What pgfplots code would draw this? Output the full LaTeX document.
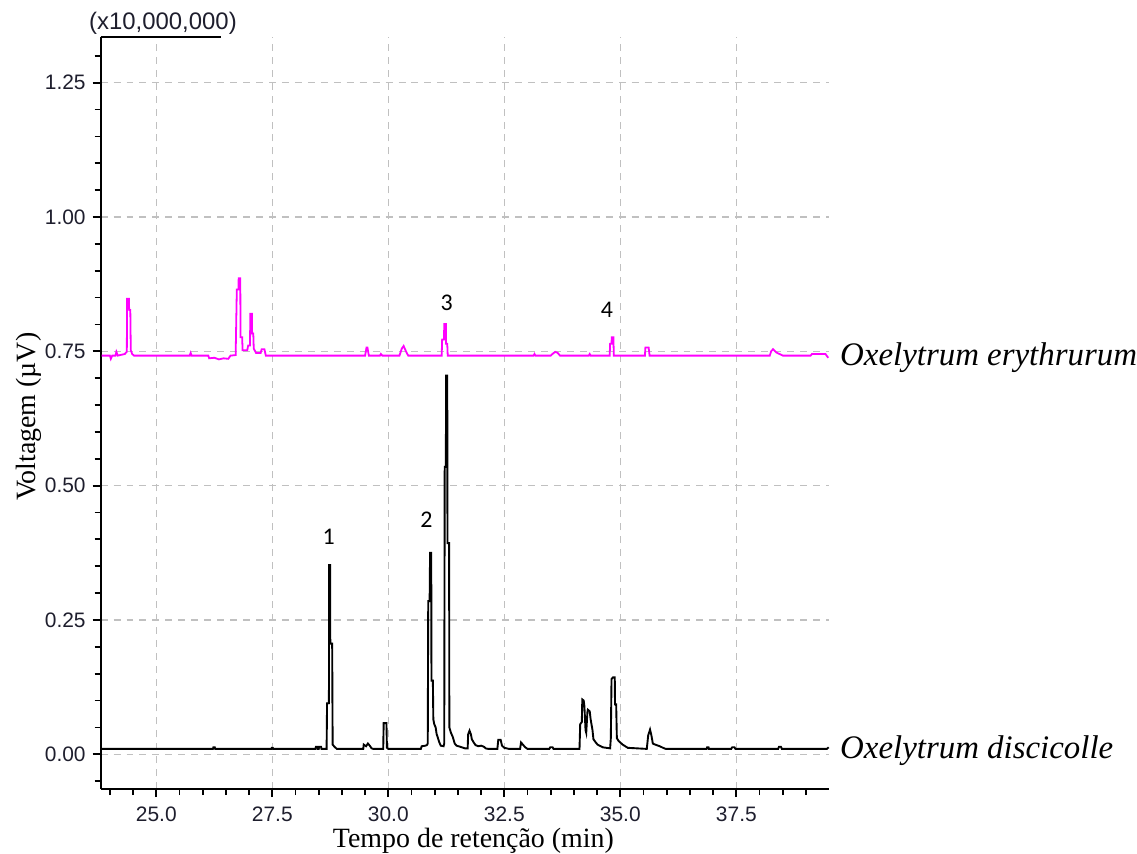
\documentclass[border=0pt]{standalone}
\usepackage{fontspec}
\setmainfont{Liberation Serif}
\setsansfont{Liberation Sans}
\newfontfamily\calibri{Carlito}
\usepackage{pgfplots}
\pgfplotsset{compat=1.18}
\definecolor{trmag}{RGB}{255,0,255}
\definecolor{gridc}{RGB}{192,192,192}
\definecolor{tickc}{RGB}{30,30,45}

\pgfplotstableread{
t v
23.80 0.010
26.22 0.010
26.23 0.013
26.26 0.013
26.27 0.010
27.48 0.010
27.49 0.012
27.51 0.012
27.52 0.010
28.43 0.010
28.44 0.014
28.47 0.014
28.48 0.010
28.50 0.010
28.51 0.014
28.55 0.014
28.56 0.010
28.67 0.010
28.68 0.095
28.72 0.095
28.725 0.352
28.745 0.352
28.75 0.206
28.79 0.206
28.80 0.018
28.84 0.014
28.89 0.010
29.46 0.010
29.47 0.018
29.52 0.015
29.56 0.020
29.60 0.016
29.64 0.011
29.68 0.010
29.89 0.010
29.90 0.058
29.96 0.058
29.97 0.012
30.00 0.010
30.70 0.010
30.72 0.015
30.80 0.016
30.83 0.017
30.85 0.020
30.86 0.285
30.89 0.285
30.90 0.375
30.925 0.375
30.93 0.137
30.96 0.137
30.97 0.065
30.99 0.056
31.02 0.050
31.04 0.038
31.07 0.030
31.10 0.022
31.13 0.016
31.19 0.015
31.205 0.020
31.215 0.535
31.24 0.535
31.245 0.705
31.27 0.705
31.275 0.393
31.31 0.393
31.315 0.050
31.35 0.040
31.39 0.032
31.43 0.020
31.47 0.016
31.55 0.014
31.65 0.011
31.71 0.011
31.72 0.037
31.75 0.044
31.78 0.037
31.80 0.028
31.84 0.022
31.88 0.017
31.94 0.015
32.00 0.016
32.06 0.014
32.10 0.011
32.15 0.010
32.35 0.010
32.37 0.027
32.42 0.027
32.45 0.016
32.50 0.012
32.60 0.010
32.84 0.010
32.86 0.022
32.90 0.018
32.95 0.013
33.00 0.010
33.47 0.010
33.49 0.013
33.54 0.013
33.56 0.010
34.12 0.010
34.135 0.056
34.17 0.060
34.18 0.102
34.21 0.100
34.225 0.090
34.25 0.045
34.265 0.040
34.29 0.078
34.30 0.083
34.34 0.080
34.36 0.065
34.40 0.045
34.42 0.028
34.47 0.022
34.51 0.018
34.62 0.013
34.78 0.011
34.795 0.030
34.81 0.140
34.84 0.143
34.88 0.143
34.885 0.093
34.91 0.093
34.925 0.030
34.96 0.025
35.05 0.018
35.16 0.012
35.57 0.010
35.60 0.035
35.64 0.046
35.67 0.035
35.70 0.020
35.75 0.018
35.85 0.015
35.92 0.012
35.98 0.010
36.86 0.010
36.87 0.013
36.90 0.013
36.91 0.010
37.39 0.010
37.41 0.013
37.46 0.013
37.48 0.010
38.40 0.010
38.42 0.014
38.46 0.014
38.48 0.010
39.45 0.010
39.49 0.013
}\discicolle

\pgfplotstableread{
t v
23.82 0.742
24.00 0.742
24.02 0.736
24.05 0.742
24.12 0.742
24.14 0.749
24.17 0.742
24.32 0.745
24.365 0.749
24.37 0.848
24.41 0.848
24.415 0.827
24.44 0.827
24.45 0.752
24.48 0.745
24.52 0.742
25.72 0.742
25.74 0.747
25.76 0.742
26.12 0.742
26.14 0.737
26.25 0.738
26.35 0.735
26.45 0.737
26.55 0.736
26.60 0.742
26.71 0.743
26.735 0.865
26.77 0.865
26.775 0.886
26.81 0.886
26.815 0.776
26.85 0.776
26.86 0.752
26.96 0.752
26.98 0.761
27.02 0.761
27.025 0.820
27.06 0.820
27.065 0.783
27.09 0.783
27.10 0.755
27.15 0.747
27.25 0.747
27.27 0.754
27.33 0.754
27.36 0.742
29.50 0.742
29.53 0.757
29.55 0.757
29.58 0.742
29.82 0.742
29.84 0.745
29.87 0.742
30.24 0.742
30.29 0.755
30.33 0.760
30.37 0.752
30.41 0.745
30.43 0.742
31.15 0.742
31.16 0.772
31.20 0.772
31.205 0.801
31.24 0.801
31.245 0.764
31.27 0.764
31.28 0.742
33.13 0.742
33.15 0.745
33.17 0.742
33.50 0.742
33.55 0.746
33.60 0.749
33.65 0.747
33.70 0.742
34.32 0.742
34.34 0.745
34.36 0.742
34.77 0.742
34.78 0.764
34.81 0.764
34.815 0.776
34.85 0.776
34.86 0.742
35.53 0.742
35.54 0.757
35.61 0.757
35.63 0.742
38.22 0.742
38.25 0.750
38.29 0.754
38.36 0.748
38.50 0.742
39.10 0.742
39.13 0.745
39.42 0.745
39.48 0.738
}\erythrurum

\begin{document}
\begin{tikzpicture}
\begin{axis}[
  scale only axis,
  width=365.35pt, height=377.5pt,
  xmin=23.8, xmax=39.49,
  ymin=-0.0649, ymax=1.3353,
  clip=false,
  axis x line*=bottom, axis y line*=left,
  axis line style={line width=1pt, black, -},
  xtick={25,27.5,30,32.5,35,37.5},
  ytick={0,0.25,0.5,0.75,1,1.25},
  minor xtick={24,24.5,25.5,26,26.5,27,28,28.5,29,29.5,30.5,31,31.5,32,33,33.5,34,34.5,35.5,36,36.5,37,38,38.5,39},
  minor ytick={-0.05,0.05,0.1,0.15,0.2,0.3,0.35,0.4,0.45,0.55,0.6,0.65,0.7,0.8,0.85,0.9,0.95,1.05,1.1,1.15,1.2,1.3},
  tick align=outside,
  major tick length=4pt, minor tick length=3pt,
  every tick/.style={line width=0.9pt, black},
  grid=major,
  major grid style={gridc, dash pattern=on 3.5pt off 3pt, line width=0.7pt},
  tick label style={font=\sffamily\fontsize{10.5}{12}\selectfont, text=tickc},
  xticklabel style={inner sep=0pt, yshift=-4.5pt, /pgf/number format/.cd, fixed, fixed zerofill, precision=1, assume math mode=true},
  yticklabel style={/pgf/number format/.cd, fixed, fixed zerofill, precision=2, assume math mode=true},
  xlabel={Tempo de retenção (min)},
  ylabel={Voltagem (µV)},
  label style={font=\fontsize{14}{16}\selectfont, inner sep=0pt},
  xlabel style={at={(axis description cs:0.512,-0.069)}, anchor=center},
  ylabel style={at={(axis description cs:-0.099,0.495)}, anchor=center},
]
\addplot[trmag, line width=0.9pt] table[x=t, y=v] {\erythrurum};
\addplot[black, line width=0.95pt] table[x=t, y=v] {\discicolle};

\draw[line width=1pt] (rel axis cs:0,1) -- (rel axis cs:0.166,1);
\node[anchor=south west, font=\sffamily\fontsize{12}{14}\selectfont, text=tickc, inner sep=1pt] at (rel axis cs:-0.019,1) {(x10,000,000)};

\node[font=\calibri\fontsize{12}{14}\selectfont] at (axis cs:28.716,0.4056) {1};
\node[font=\calibri\fontsize{12}{14}\selectfont] at (axis cs:30.82,0.436) {2};
\node[font=\calibri\fontsize{12}{14}\selectfont] at (axis cs:31.26,0.841) {3};
\node[font=\calibri\fontsize{12}{14}\selectfont] at (axis cs:34.71,0.828) {4};

\node[anchor=base west, inner sep=0pt, font=\itshape\fontsize{16.5}{18}\selectfont] at (axis cs:39.73,0.723) {Oxelytrum erythrurum};
\node[anchor=base west, inner sep=0pt, font=\itshape\fontsize{16.5}{18}\selectfont] at (axis cs:39.73,-0.0074) {Oxelytrum discicolle};

\coordinate (bbl) at (rel axis cs:-0.1382,-0.0821);
\coordinate (btr) at (rel axis cs:1.4178,1.0490);
\end{axis}
\path (bbl) rectangle (btr);
\end{tikzpicture}
\end{document}
